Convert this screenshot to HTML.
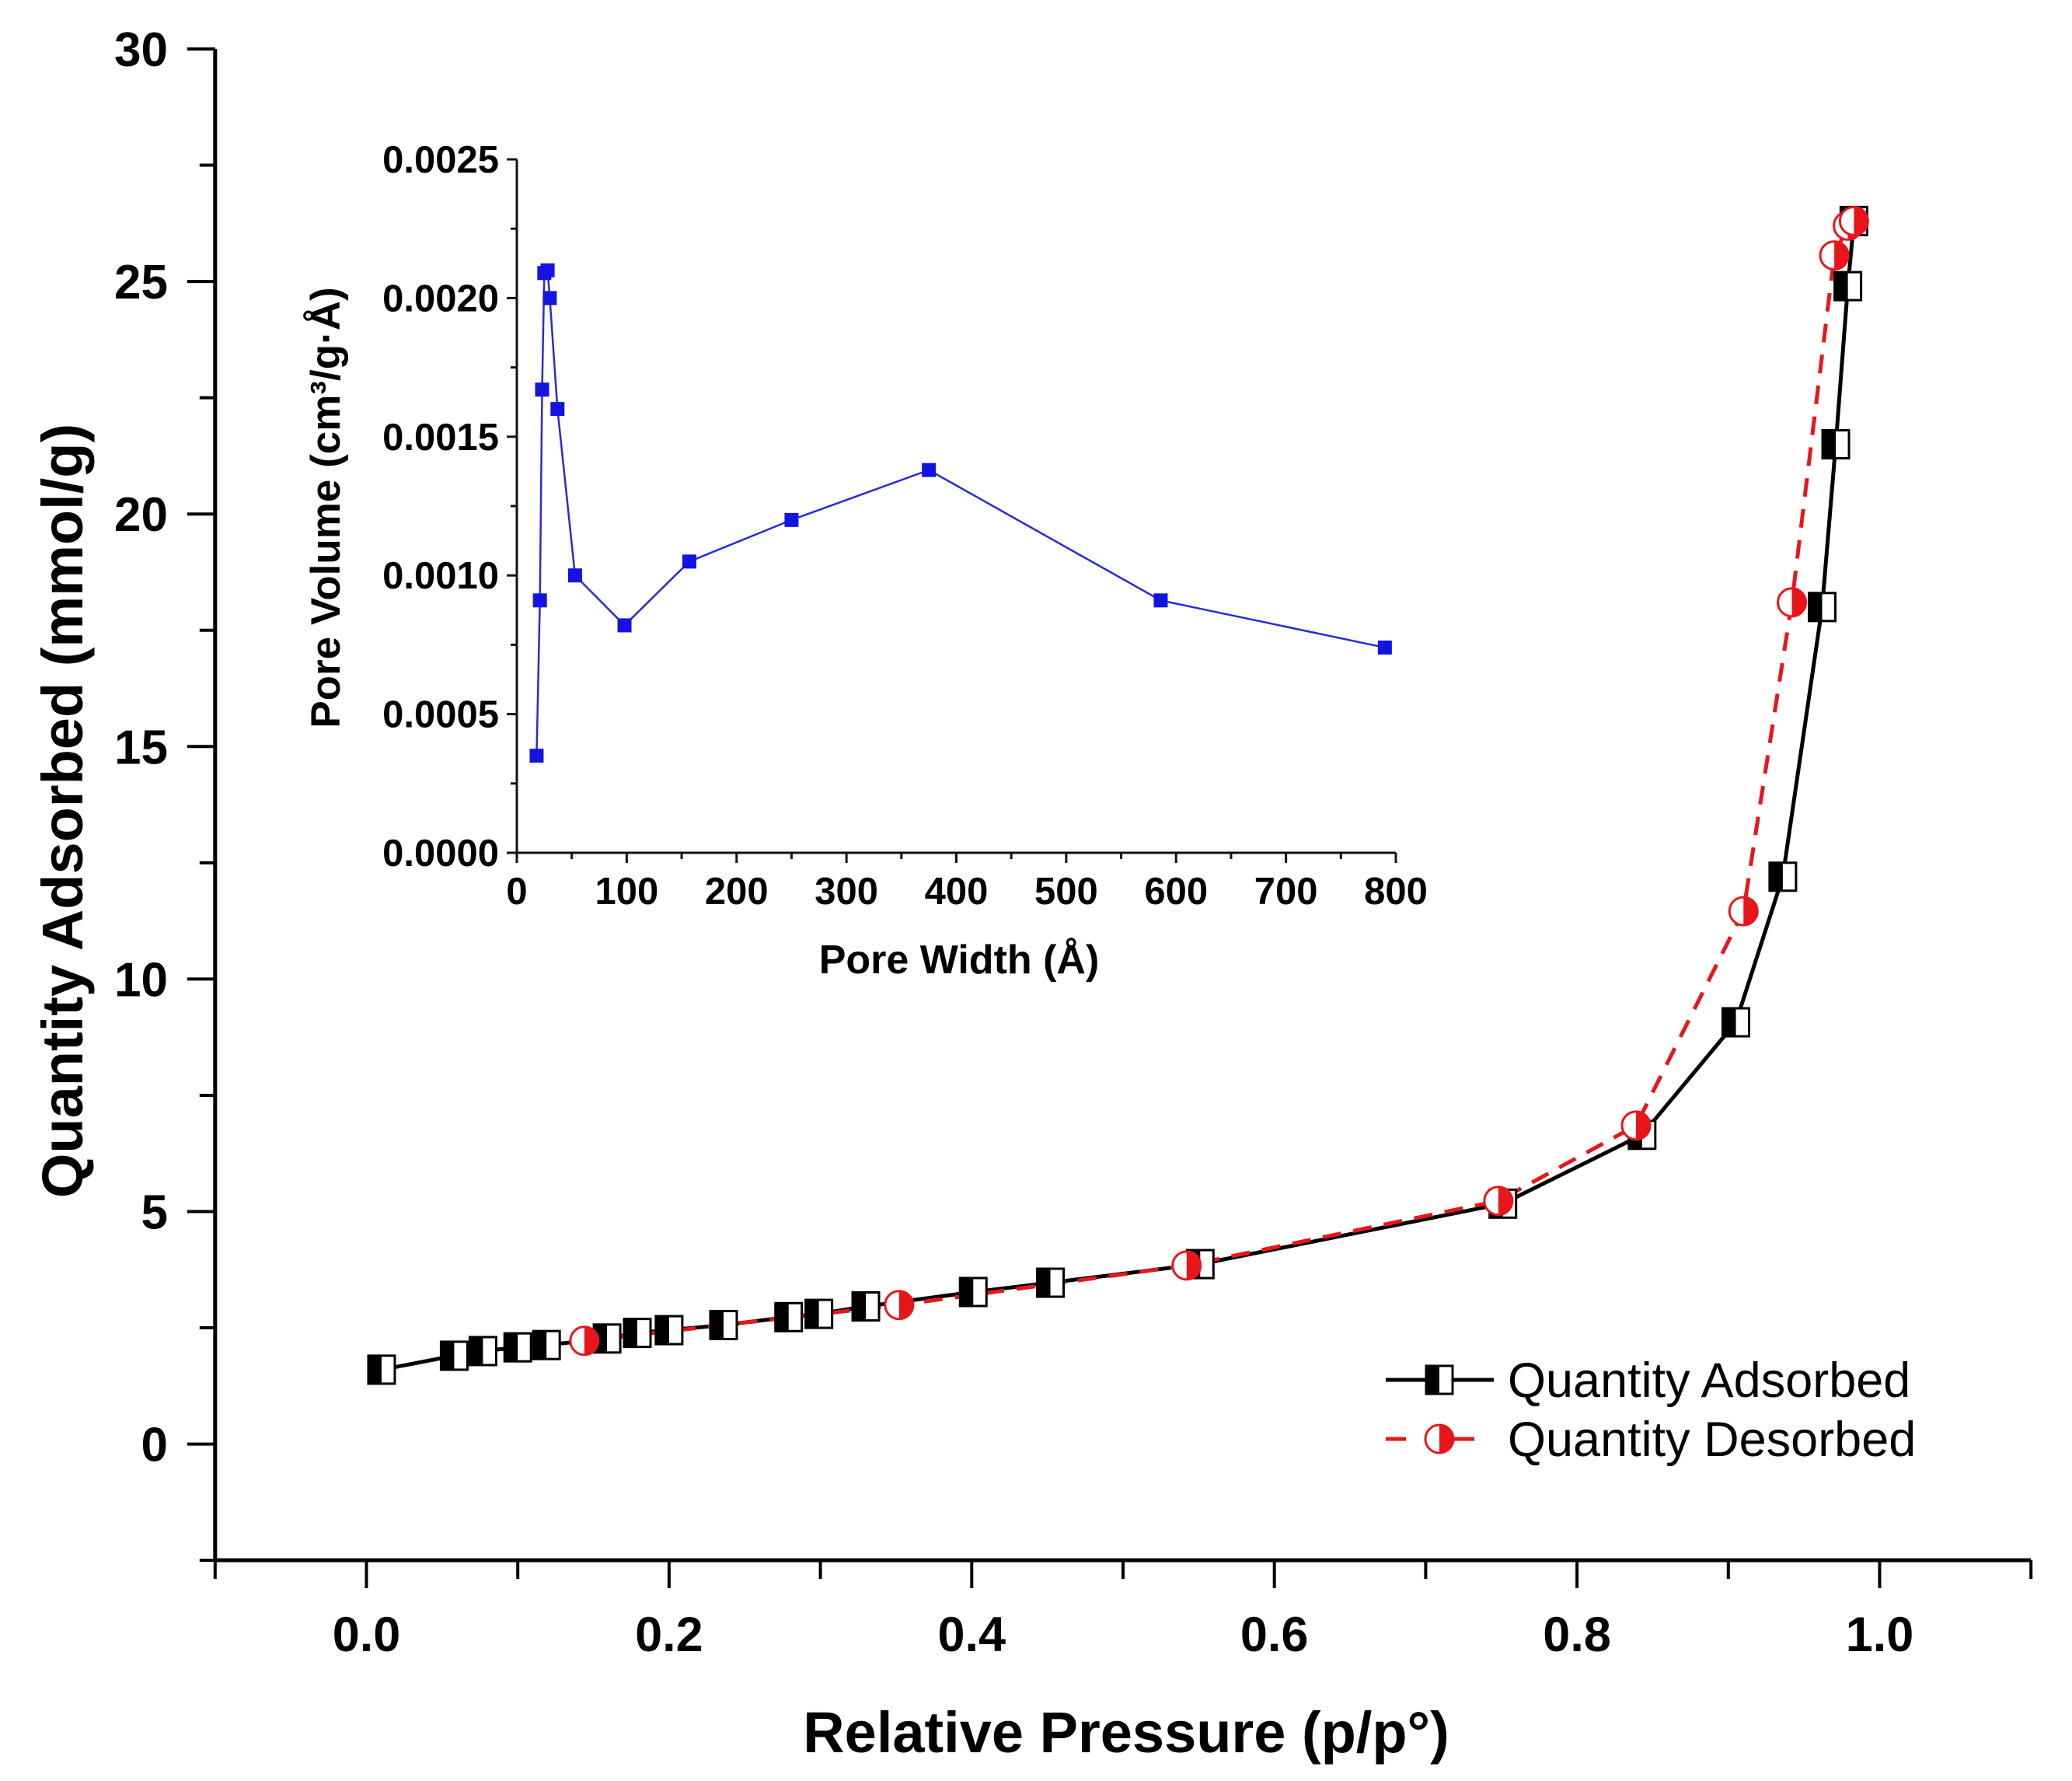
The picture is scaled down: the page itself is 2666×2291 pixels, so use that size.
<!DOCTYPE html>
<html><head><meta charset="utf-8"><style>
html,body{margin:0;padding:0;background:#fff}
svg{display:block}
text{font-family:"Liberation Sans",Arial,sans-serif}
</style></head><body>
<svg id="chart" xmlns="http://www.w3.org/2000/svg" width="2666" height="2291" viewBox="0 0 2666 2291">
<rect width="2666" height="2291" fill="#fff"/>
<g id="main"></g>
<g id="inset"></g>
</svg>
<script>
// Main chart data
const adsX=[0.01,0.058,0.077,0.10,0.119,0.159,0.179,0.20,0.236,0.279,0.299,0.33,0.401,0.452,0.551,0.751,0.843,0.905,0.936,0.962,0.971,0.979,0.983];
const adsY=[1.6,1.9,2.0,2.08,2.13,2.27,2.39,2.45,2.56,2.73,2.8,2.96,3.27,3.47,3.87,5.17,6.65,9.07,12.2,18.0,21.5,24.9,26.3];
const desX=[0.144,0.352,0.542,0.748,0.839,0.91,0.942,0.97,0.979,0.983];
const desY=[2.22,2.99,3.84,5.23,6.85,11.46,18.1,25.56,26.2,26.3];
const xTicks=[0.0,0.2,0.4,0.6,0.8,1.0];
const xTickLabels=["0.0","0.2","0.4","0.6","0.8","1.0"];
const yTicks=[0,5,10,15,20,25,30];
const yTickLabels=["0","5","10","15","20","25","30"];
// Inset data
const poreW=[18,21,23,25,28,30,37,53,98,157,250,375,586,790];
const poreV=[0.00035,0.00091,0.00167,0.00209,0.0021,0.0020,0.0016,0.0010,0.00082,0.00105,0.0012,0.00138,0.00091,0.00074];
const inXTicks=[0,100,200,300,400,500,600,700,800];
const inYTicks=[0,0.0005,0.0010,0.0015,0.0020,0.0025];
const inYTickLabels=["0.0000","0.0005","0.0010","0.0015","0.0020","0.0025"];

const NS="http://www.w3.org/2000/svg";
function mk(parent,tag,attrs){const e=document.createElementNS(NS,tag);for(const k in attrs)e.setAttribute(k,attrs[k]);parent.appendChild(e);return e;}

const main=document.getElementById('main');


const X=v=>471.5+v*1947;
const Y=v=>1857.6-v*59.82;
const xL=X(-0.1), xR=X(1.1), yB=2007, yT=Y(30);

let ax=mk(main,'line',{x1:xL,y1:yB,x2:xR,y2:yB,stroke:'#000','stroke-width':5});


ax=mk(main,'line',{x1:xL,y1:yB+2,x2:xL,y2:yT,stroke:'#000','stroke-width':5});


for(let i=-1;i<=11;i++){const v=i/10;const major=(i%2===0);
  const t=mk(main,'line',{x1:X(v),y1:yB,x2:X(v),y2:yB+(major?36:24),stroke:'#000','stroke-width':4});
  
  }
xTicks.forEach((v,i)=>{const t=mk(main,'text',{x:X(v),y:2124,'text-anchor':'middle','font-size':63,'font-weight':'bold'});t.textContent=xTickLabels[i];
  
  });
for(let v=-2.5;v<=30;v+=2.5){const major=(v%5===0);
  const t=mk(main,'line',{x1:xL,y1:Y(v),x2:xL-(major?36:20),y2:Y(v),stroke:'#000','stroke-width':4});
  
  }
yTicks.forEach((v,i)=>{const t=mk(main,'text',{x:216,y:Y(v)+22,'text-anchor':'end','font-size':62,'font-weight':'bold'});t.textContent=yTickLabels[i];
  
  });
let lab=mk(main,'text',{x:1449,y:2254,'text-anchor':'middle','font-size':74,'font-weight':'bold'});lab.textContent='Relative Pressure (p/p°)';


lab=mk(main,'text',{x:0,y:0,'text-anchor':'middle','font-size':74,'font-weight':'bold',transform:'translate(106,1043) rotate(-90)'});lab.textContent='Quantity Adsorbed (mmol/g)';



let pts=adsX.map((v,i)=>X(v)+','+Y(adsY[i])).join(' ');
let pl=mk(main,'polyline',{points:pts,fill:'none',stroke:'#000','stroke-width':5});


pts=desX.map((v,i)=>X(v)+','+Y(desY[i])).join(' ');
pl=mk(main,'polyline',{points:pts,fill:'none',stroke:'#e8161a','stroke-width':5,'stroke-dasharray':'24 16'});



function sq(parent,cx,cy){const g=mk(parent,'g',{});
  mk(g,'rect',{x:cx-17,y:cy-18,width:34,height:36,fill:'#fff',stroke:'#000','stroke-width':3});
  mk(g,'rect',{x:cx-17,y:cy-18,width:17,height:36,fill:'#000'});return g;}
function circ(parent,cx,cy){const g=mk(parent,'g',{});
  mk(g,'circle',{cx:cx,cy:cy,r:18,fill:'#fff',stroke:'#e8161a','stroke-width':3});
  mk(g,'path',{d:`M${cx},${cy-18} A18,18 0 0 1 ${cx},${cy+18} Z`,fill:'#e8161a'});return g;}
adsX.forEach((v,i)=>{const g=sq(main,X(v),Y(adsY[i]));
  
  });
desX.forEach((v,i)=>{const g=circ(main,X(v),Y(desY[i]));
  
  });

const leg=mk(main,'g',{});


let le=mk(leg,'g',{});


mk(le,'line',{x1:1783,y1:1775,x2:1922,y2:1775,stroke:'#000','stroke-width':5});
sq(le,1852,1775);
let lt=mk(le,'text',{x:1940,y:1797,'font-size':63});lt.textContent='Quantity Adsorbed';
le=mk(leg,'g',{});


mk(le,'line',{x1:1783,y1:1851,x2:1922,y2:1851,stroke:'#e8161a','stroke-width':5,'stroke-dasharray':'26 62'});
circ(le,1852,1851);
lt=mk(le,'text',{x:1940,y:1873,'font-size':63});lt.textContent='Quantity Desorbed';

const ins=document.getElementById('inset');


const IX=v=>665+v*(1796-665)/800;
const IY=v=>1097-v*(1097-205)/0.0025;
ax=mk(ins,'line',{x1:IX(0),y1:IY(0),x2:IX(800),y2:IY(0),stroke:'#111','stroke-width':3});


ax=mk(ins,'line',{x1:IX(0),y1:IY(0)+1,x2:IX(0),y2:IY(0.0025),stroke:'#111','stroke-width':3});


for(let v=0;v<=800;v+=50){const major=(v%100===0);
  const t=mk(ins,'line',{x1:IX(v),y1:IY(0),x2:IX(v),y2:IY(0)+(major?13:8),stroke:'#111','stroke-width':3});
  
  }
inXTicks.forEach(v=>{const t=mk(ins,'text',{x:IX(v),y:1163,'text-anchor':'middle','font-size':49,'font-weight':'bold'});t.textContent=String(v);
  
  });
for(let k=0;k<=10;k++){const v=k*0.00025;const major=(k%2===0);
  const t=mk(ins,'line',{x1:IX(0),y1:IY(v),x2:IX(0)-(major?13:8),y2:IY(v),stroke:'#111','stroke-width':3});
  
  }
inYTicks.forEach((v,i)=>{const t=mk(ins,'text',{x:642,y:IY(v)+17,'text-anchor':'end','font-size':49,'font-weight':'bold'});t.textContent=inYTickLabels[i];
  
  });
lab=mk(ins,'text',{x:1234,y:1252,'text-anchor':'middle','font-size':52,'font-weight':'bold'});lab.textContent='Pore Width (Å)';


lab=mk(ins,'text',{x:0,y:0,'text-anchor':'middle','font-size':53,'font-weight':'bold',transform:'translate(437,653) rotate(-90)'});lab.textContent='Pore Volume (cm³/g·Å)';


pts=poreW.map((v,i)=>IX(v)+','+IY(poreV[i])).join(' ');
pl=mk(ins,'polyline',{points:pts,fill:'none',stroke:'#2a2ad8','stroke-width':2.5});


poreW.forEach((v,i)=>{const r=mk(ins,'rect',{x:IX(v)-9,y:IY(poreV[i])-9,width:18,height:18,fill:'#1414e0'});
  
  });
</script>
</body></html>
